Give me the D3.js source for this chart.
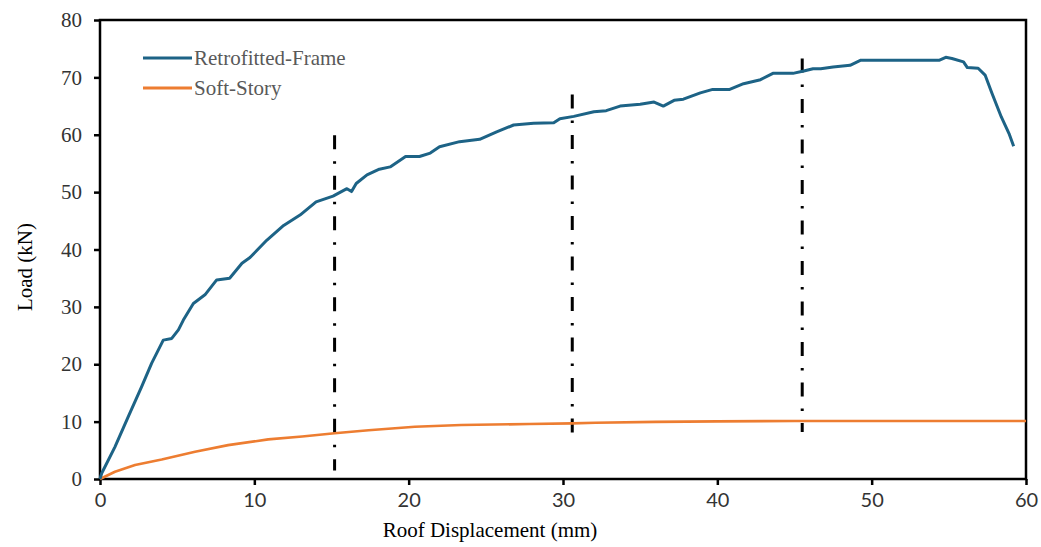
<!DOCTYPE html>
<html>
<head>
<meta charset="utf-8">
<script src="https://cdn.jsdelivr.net/npm/d3@7"></script>
<style>
  html, body { margin: 0; padding: 0; background: #fff; }
  svg { display: block; }
</style>
</head>
<body>
<svg id="chart" width="1041" height="547"></svg>
<script>
// Pushover curves: roof displacement (mm) vs. base load (kN)
const retrofitDisp = [0, 0.11, 0.97, 1.84, 2.7, 3.35, 4.1, 4.65, 5.08, 5.4, 6.05, 6.8, 7.56, 8.4, 9.2, 9.72,
  10.8, 11.9, 12.96, 14.0, 15.1, 16.0, 16.3, 16.6, 17.3, 18.1, 18.8, 19.8, 20.7, 21.4, 22.0, 23.3, 24.6,
  25.7, 26.8, 28.1, 29.4, 29.8, 30.7, 32.0, 32.8, 33.7, 35.0, 35.9, 36.5, 37.2, 37.8, 38.9, 39.7, 40.8,
  41.7, 42.8, 43.6, 44.9, 45.6, 46.2, 46.7, 47.5, 48.6, 49.3, 54.4, 54.8, 55.2, 55.95, 56.2, 56.9, 57.35,
  57.8, 58.4, 58.9, 59.2];
const retrofitLoad = [0, 1.0, 5.6, 10.9, 16.1, 20.2, 24.2, 24.5, 26.0, 27.7, 30.6, 32.1, 34.7, 35.0, 37.6, 38.6,
  41.6, 44.2, 46.0, 48.3, 49.3, 50.6, 50.1, 51.5, 53.0, 54.0, 54.4, 56.2, 56.2, 56.8, 57.9, 58.8, 59.2,
  60.5, 61.7, 62.0, 62.1, 62.8, 63.2, 64.0, 64.2, 65.0, 65.3, 65.7, 65.0, 66.0, 66.2, 67.3, 67.9, 67.9,
  68.9, 69.6, 70.7, 70.7, 71.1, 71.5, 71.5, 71.8, 72.1, 73.0, 73.0, 73.5, 73.3, 72.7, 71.7, 71.6, 70.4,
  67.2, 63.1, 60.2, 58.0];

const softDisp = [0, 0.97, 2.27, 4.0, 6.16, 8.3, 10.9, 13.1, 15.2, 17.4, 20.4, 23.4, 27.8, 30.6, 32.1, 36.0, 40.0, 45.0, 50.0, 55.0, 60.0];
const softLoad = [0, 1.27, 2.44, 3.4, 4.76, 5.9, 6.9, 7.4, 7.96, 8.5, 9.1, 9.4, 9.58, 9.7, 9.8, 9.95, 10.05, 10.1, 10.1, 10.1, 10.1];

// Vertical dash-dot markers (displacement, top load, bottom load)
const markerDisp = [15.2, 30.6, 45.5];
const markerTop = [59.9, 67.0, 73.3];
const markerBottom = [1.5, 6.8, 8.2];

const xTicks = [0, 10, 20, 30, 40, 50, 60];
const yTicks = [0, 10, 20, 30, 40, 50, 60, 70, 80];

const seriesNames = ["Retrofitted-Frame", "Soft-Story"];
const seriesColors = ["#1d6386", "#ed7d31"];

const margin = { left: 100, top: 20, right: 15, bottom: 68 };
const W = 1041, H = 547;
const innerW = W - margin.left - margin.right;
const innerH = H - margin.top - margin.bottom;

const svg = d3.select("#chart");
const g = svg.append("g").attr("transform", `translate(${margin.left},${margin.top})`);

const x = d3.scaleLinear().domain([0, 60]).range([0, innerW]);
const y = d3.scaleLinear().domain([0, 80]).range([innerH, 0]);

// Axes
const xAxis = g.append("g")
  .attr("transform", `translate(0,${innerH})`)
  .call(d3.axisBottom(x).tickValues(xTicks).tickSize(6).tickPadding(8).tickFormat(d3.format("d")));
xAxis.selectAll("text")
  .attr("font-family", "Lato, 'Open Sans', sans-serif")
  .attr("font-size", 20)
  .attr("fill", "#333");

const yAxis = g.append("g")
  .call(d3.axisLeft(y).tickValues(yTicks).tickSize(6).tickPadding(12).tickFormat(d3.format("d")));
yAxis.selectAll("text")
  .attr("font-family", "'Liberation Serif', 'Times New Roman', serif")
  .attr("font-size", 21)
  .attr("fill", "#333");

[xAxis, yAxis].forEach(a => {
  a.select(".domain").remove();
  a.selectAll(".tick line").attr("stroke", "#000").attr("stroke-width", 2.5);
});

// Plot frame
g.append("rect")
  .attr("x", 0).attr("y", 0)
  .attr("width", innerW).attr("height", innerH)
  .attr("fill", "none")
  .attr("stroke", "#000")
  .attr("stroke-width", 2.5);

const line = d3.line().x(d => x(d[0])).y(d => y(d[1]));

// Dash-dot markers
g.selectAll(".marker")
  .data(markerDisp.map((d, i) => ({ d, top: markerTop[i], bottom: markerBottom[i] })))
  .join("line")
  .attr("class", "marker")
  .attr("x1", m => x(m.d)).attr("x2", m => x(m.d))
  .attr("y1", m => y(m.top)).attr("y2", m => y(m.bottom))
  .attr("stroke", "#000")
  .attr("stroke-width", 3)
  .attr("stroke-dasharray", "14,12,2.5,12");

// Curves
g.append("path")
  .datum(softDisp.map((d, i) => [d, softLoad[i]]))
  .attr("d", line)
  .attr("fill", "none")
  .attr("stroke", seriesColors[1])
  .attr("stroke-width", 2.6)
  .attr("stroke-linejoin", "round");

g.append("path")
  .datum(retrofitDisp.map((d, i) => [d, retrofitLoad[i]]))
  .attr("d", line)
  .attr("fill", "none")
  .attr("stroke", seriesColors[0])
  .attr("stroke-width", 3)
  .attr("stroke-linejoin", "round");

// Legend
const legend = svg.append("g").attr("transform", "translate(143,58)");
seriesNames.forEach((name, i) => {
  const row = legend.append("g").attr("transform", `translate(0,${i * 30})`);
  row.append("line")
    .attr("x1", 0).attr("x2", 49).attr("y1", 0).attr("y2", 0)
    .attr("stroke", seriesColors[i]).attr("stroke-width", 3);
  row.append("text")
    .attr("x", 51).attr("y", 7)
    .attr("font-family", "'Liberation Serif', 'Times New Roman', serif")
    .attr("font-size", 21)
    .attr("fill", "#595959")
    .text(name);
});

// Axis titles
svg.append("text")
  .attr("x", 490)
  .attr("y", 537)
  .attr("text-anchor", "middle")
  .attr("font-family", "'Liberation Serif', 'Times New Roman', serif")
  .attr("font-size", 21)
  .attr("fill", "#000")
  .text("Roof Displacement (mm)");

svg.append("text")
  .attr("transform", "translate(32,267) rotate(-90)")
  .attr("text-anchor", "middle")
  .attr("font-family", "'Liberation Serif', 'Times New Roman', serif")
  .attr("font-size", 21)
  .attr("fill", "#000")
  .text("Load (kN)");
</script>
</body>
</html>
